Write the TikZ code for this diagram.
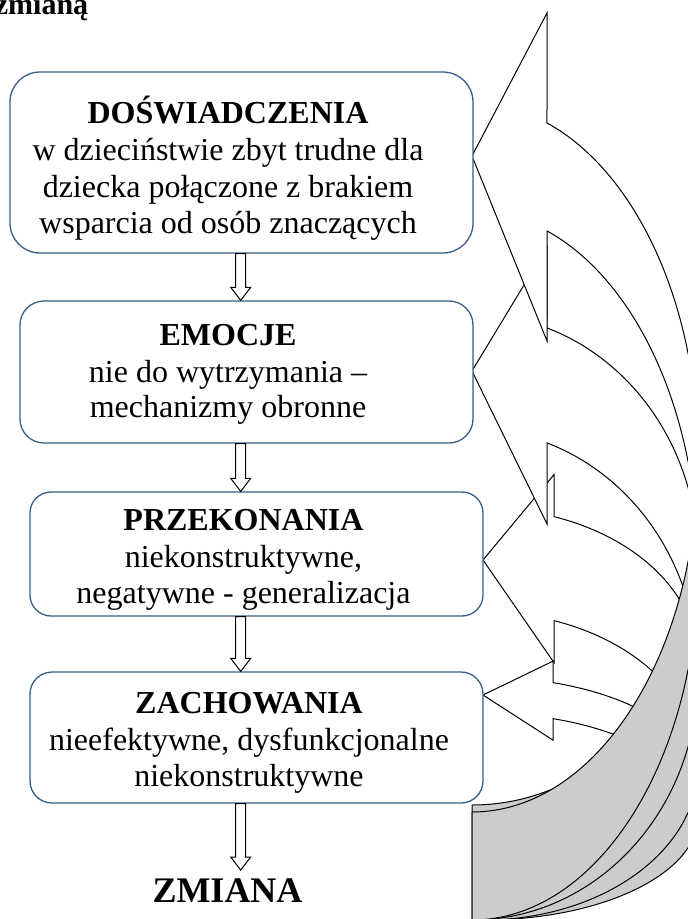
\documentclass[tikz,border=0pt]{standalone}
\usepackage{fontspec}
\setmainfont{Liberation Serif}
\usetikzlibrary{calc}
\definecolor{boxblue}{RGB}{56,93,138}
\definecolor{shadegray}{RGB}{204,204,204}
\tikzset{
  box/.style={draw=boxblue, line width=1.3pt, fill=white, inner sep=0pt},
  txt/.style={font=\fontsize{32}{36.7}\selectfont, anchor=base, inner sep=0pt},
  ttl/.style={font=\fontsize{32}{36.7}\selectfont\bfseries, anchor=base, inner sep=0pt},
  blockarrow/.style={draw=black, fill=white, line width=1pt},
  curveline/.style={draw=black, line width=1pt},
}
% curved left arrow (flipped): #1 l, #2 w, #3 head length, #4 R, #5 thickness, #6 centre y, #7 head overhang, #8 tip y
\newcommand{\curvedarrow}[8]{%
  \pgfmathsetmacro{\cvL}{#1}%
  \pgfmathsetmacro{\cvW}{#2}%
  \pgfmathsetmacro{\cvH}{#3}%
  \pgfmathsetmacro{\cvR}{#4}%
  \pgfmathsetmacro{\cvT}{#5}%
  \pgfmathsetmacro{\cvB}{#6}%
  \pgfmathsetmacro{\cvD}{#7}%
  \pgfmathsetmacro{\cvP}{#8}%
  \pgfmathsetmacro{\cvA}{\cvB+\cvT}%
  \pgfmathsetmacro{\cvS}{acos(\cvH/\cvW)}%
  \pgfmathsetmacro{\cvI}{asin(\cvT/(2*\cvR))}%
  \pgfmathsetmacro{\cvX}{\cvL+\cvH}%
  \pgfmathsetmacro{\cvO}{-\cvB+\cvR*sin(\cvS)}%
  \pgfmathsetmacro{\cvN}{-\cvA+\cvR*sin(\cvS)}%
  \pgfmathsetmacro{\cvE}{\cvL+\cvW}%
  \fill[white] (\cvL,-\cvP) -- (\cvX,\cvN-\cvD) -- (\cvX,\cvN)
    arc[start angle=\cvS, end angle=\cvI, x radius=\cvW, y radius=\cvR]
    arc[start angle=-\cvI, end angle=\cvS, x radius=\cvW, y radius=\cvR]
    -- (\cvX,\cvO+\cvD) -- cycle;
  \filldraw[fill=shadegray, curveline] (\cvL,-\cvB-\cvR)
    arc[start angle=-90, end angle=0, x radius=\cvW, y radius=\cvR]
    -- (\cvE,-\cvA)
    arc[start angle=0, end angle=-90, x radius=\cvW, y radius=\cvR]
    -- cycle;
  \draw[curveline] (\cvE,-\cvB)
    arc[start angle=0, end angle=\cvS, x radius=\cvW, y radius=\cvR]
    -- (\cvX,\cvO+\cvD) -- (\cvL,-\cvP) -- (\cvX,\cvN-\cvD) -- (\cvX,\cvN)
    arc[start angle=\cvS, end angle=\cvI, x radius=\cvW, y radius=\cvR];
}
\newcommand{\blockarr}[2]{%
  \draw[blockarrow] let \p1=#1, \p2=#2 in
    (\x1-5pt,\y1) -- (\x1+5pt,\y1) -- (\x1+5pt,\y2+13pt) -- (\x1+10pt,\y2+13pt)
    -- (\x1,\y2) -- (\x1-10pt,\y2+13pt) -- (\x1-5pt,\y2+13pt) -- cycle;}
\begin{document}
\begin{tikzpicture}[x=1pt,y=1pt]
\useasboundingbox (0,0) rectangle (688,-919);
\clip (0,0) rectangle (688,-919);
\fill[white] (0,0) rectangle (688,-919);

% curved arrows, bottom one first
\curvedarrow{483}{215}{70}{103.5}{36}{780.5}{21.5}{695}
\curvedarrow{483}{215}{71}{154}{104}{662}{42}{560}
\curvedarrow{472}{226}{75}{245.5}{115}{559.5}{81}{371}
\curvedarrow{472}{226}{75}{354.6}{108}{457.4}{110}{156}

% boxes
\node[box, rounded corners=30pt, minimum width=463pt, minimum height=181pt] (b1) at (241.5,-162.5) {};
\node[box, rounded corners=24pt, minimum width=453pt, minimum height=142pt] (b2) at (246.5,-372) {};
\node[box, rounded corners=21pt, minimum width=453pt, minimum height=124pt] (b3) at (256.5,-554) {};
\node[box, rounded corners=22pt, minimum width=453pt, minimum height=131pt] (b4) at (256.5,-737.5) {};

% texts
\node[ttl] (t1a) at (228,-123) {DOŚWIADCZENIA};
\node[txt] (t1b) at (228,-160) {w dzieciństwie zbyt trudne dla};
\node[txt] (t1c) at (228,-197) {dziecka połączone z brakiem};
\node[txt] (t1d) at (228,-233) {wsparcia od osób znaczących};
\node[ttl] (t2a) at (228,-345) {EMOCJE};
\node[txt] (t2b) at (228,-382) {nie do wytrzymania –};
\node[txt] (t2c) at (228,-417) {mechanizmy obronne};
\node[ttl] (t3a) at (243.5,-530) {PRZEKONANIA};
\node[txt] (t3b) at (243.5,-567) {niekonstruktywne,};
\node[txt] (t3c) at (243.5,-603) {negatywne - generalizacja};
\node[ttl] (t4a) at (249,-713) {ZACHOWANIA};
\node[txt] (t4b) at (249,-750) {nieefektywne, dysfunkcjonalne};
\node[txt] (t4c) at (249,-786) {niekonstruktywne};
\node[font=\fontsize{36}{40}\selectfont\bfseries, anchor=base, inner sep=0pt] (zm) at (227.5,-902) {ZMIANA};
\node[font=\fontsize{30}{34}\selectfont\bfseries, anchor=base west, inner sep=0pt] (title) at (-5.3,-14) {zmianą};

% block arrows
\coordinate (axis) at (240.7,0);
\blockarr{(b1.south -| axis)}{(b2.north -| axis)}
\blockarr{(b2.south -| axis)}{(b3.north -| axis)}
\blockarr{(b3.south -| axis)}{(b4.north -| axis)}
\coordinate (zmtop) at ($(zm.north -| axis)+(0,8)$);
\blockarr{(b4.south -| axis)}{(zmtop)}
\end{tikzpicture}
\end{document}
